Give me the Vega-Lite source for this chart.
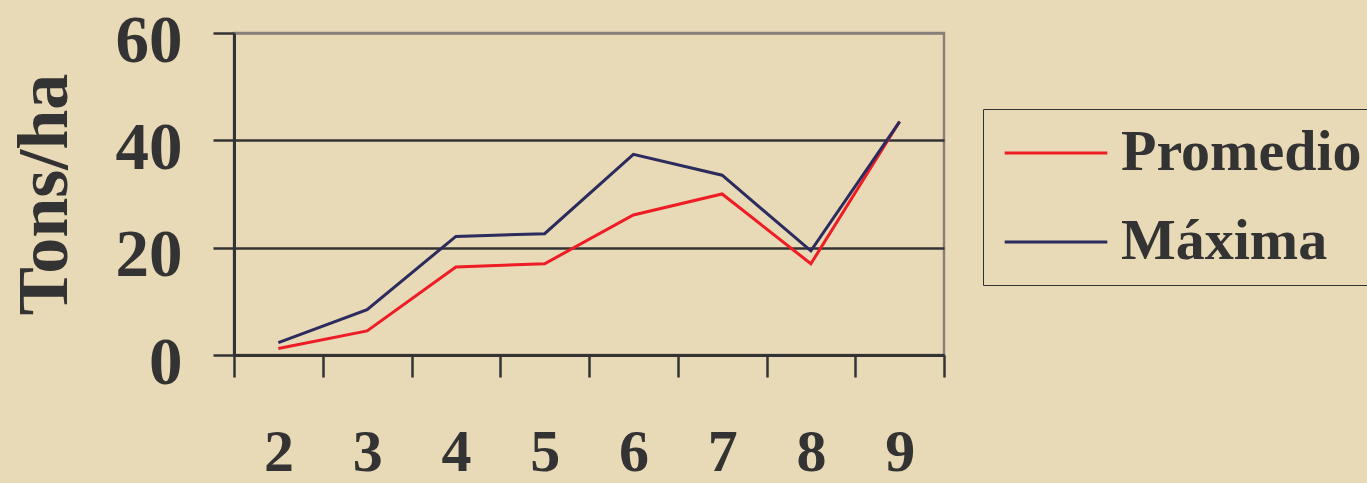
{
  "$schema": "https://vega.github.io/schema/vega-lite/v6.json",
  "autosize": {"type": "none"},
  "padding": {"left": 234, "top": 33, "right": 423, "bottom": 128},
  "width": 710,
  "height": 322,
  "background": "#e8d9b7",
  "data": {
    "values": [
      {"x": "2", "serie": "Promedio", "v": 1.2},
      {"x": "3", "serie": "Promedio", "v": 4.5},
      {"x": "4", "serie": "Promedio", "v": 16.4},
      {"x": "5", "serie": "Promedio", "v": 17.0},
      {"x": "6", "serie": "Promedio", "v": 26.1},
      {"x": "7", "serie": "Promedio", "v": 30.0},
      {"x": "8", "serie": "Promedio", "v": 17.0},
      {"x": "9", "serie": "Promedio", "v": 43.5},
      {"x": "2", "serie": "Máxima", "v": 2.3},
      {"x": "3", "serie": "Máxima", "v": 8.45},
      {"x": "4", "serie": "Máxima", "v": 22.1},
      {"x": "5", "serie": "Máxima", "v": 22.6},
      {"x": "6", "serie": "Máxima", "v": 37.4},
      {"x": "7", "serie": "Máxima", "v": 33.5},
      {"x": "8", "serie": "Máxima", "v": 19.4},
      {"x": "9", "serie": "Máxima", "v": 43.5}
    ]
  },
  "mark": {"type": "line", "strokeWidth": 3},
  "encoding": {
    "x": {
      "field": "x",
      "type": "ordinal",
      "scale": {"type": "band", "paddingInner": 0, "paddingOuter": 0},
      "axis": {
        "title": null,
        "labelAngle": 0,
        "labelFontSize": 60,
        "labelBaseline": "alphabetic",
        "labelPadding": 93,
        "tickBand": "extent",
        "tickSize": 22,
        "grid": false
      }
    },
    "y": {
      "field": "v",
      "type": "quantitative",
      "scale": {"domain": [0, 60], "nice": false},
      "axis": {
        "title": "Tons/ha",
        "values": [0, 20, 40, 60],
        "labelFontSize": 67,
        "labelPadding": 31,
        "labelBaseline": "alphabetic",
        "labelOffset": 28,
        "labelFlush": false,
        "labelOverlap": false,
        "tickSize": 21,
        "grid": true,
        "gridColor": {"condition": {"test": "datum.value === 60", "value": "#8a807b"}, "value": "#333333"},
        "gridWidth": 2.5,
        "gridOpacity": 1,
        "titleFontSize": 72,
        "titleX": -190,
        "titleY": 161,
        "titleAlign": "center",
        "titleBaseline": "middle",
        "titleAngle": -90
      }
    },
    "color": {
      "field": "serie",
      "type": "nominal",
      "scale": {"domain": ["Promedio", "Máxima"], "range": ["#ee1c24", "#2b2b5e"]},
      "legend": {
        "title": null,
        "orient": "none",
        "legendX": 749,
        "legendY": 76,
        "symbolType": "M-1.8,0H1.8",
        "symbolSize": 3249,
        "symbolStrokeWidth": 3,
        "symbolOffset": 29,
        "labelFontSize": 58,
        "labelOffset": 35,
        "labelLimit": 400,
        "rowPadding": 30,
        "padding": 14,
        "strokeColor": "#333333"
      }
    }
  },
  "config": {
    "font": "Liberation Serif",
    "view": {"stroke": "#8a807b", "strokeWidth": 2.5},
    "axis": {
      "labelFont": "Liberation Serif",
      "labelFontWeight": "bold",
      "labelColor": "#333333",
      "titleFont": "Liberation Serif",
      "titleFontWeight": "bold",
      "titleColor": "#333333",
      "domainColor": "#333333",
      "domainWidth": 3,
      "tickColor": "#333333",
      "tickWidth": 2.5
    },
    "legend": {
      "labelFont": "Liberation Serif",
      "labelFontWeight": "bold",
      "labelColor": "#333333"
    }
  }
}
